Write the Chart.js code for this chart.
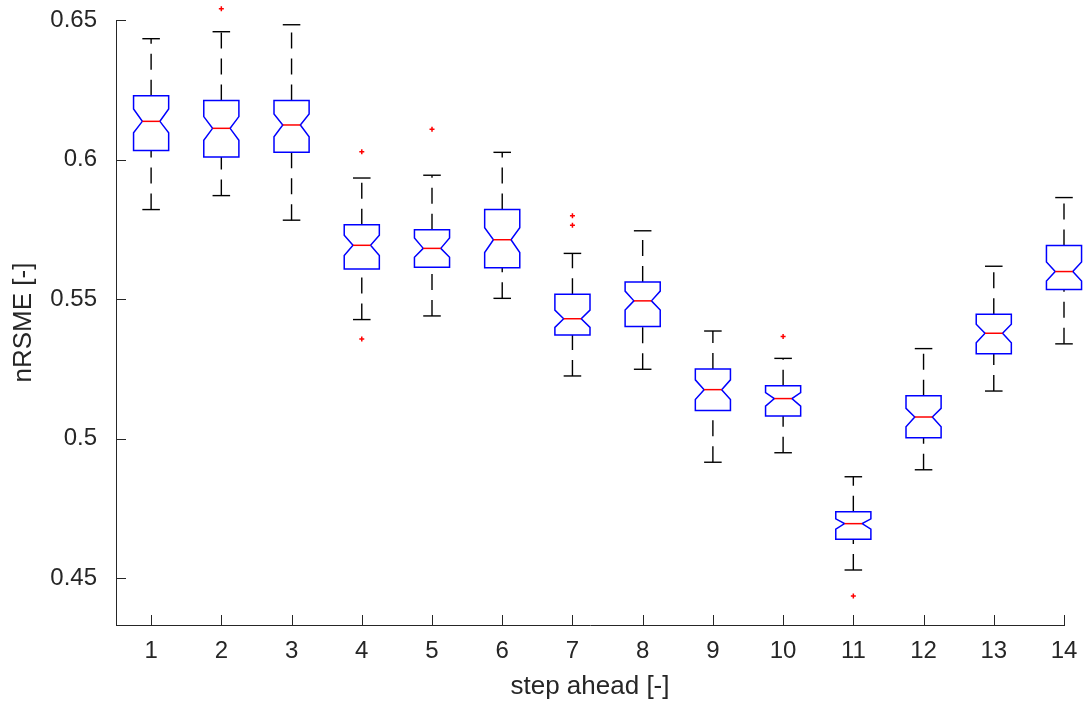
<!DOCTYPE html>
<html>
<head>
<meta charset="utf-8">
<script src="https://cdn.jsdelivr.net/npm/chart.js@4/dist/chart.umd.min.js"></script>
<style>
  html, body { margin: 0; padding: 0; background: #ffffff; }
  #wrap { width: 1083px; height: 704px; }
</style>
</head>
<body>
<div id="wrap"><canvas id="c" width="1083" height="704"></canvas></div>
<script>
// ---- data ----
const steps        = [1, 2, 3, 4, 5, 6, 7, 8, 9, 10, 11, 12, 13, 14];
const upperWhisker = [0.6433, 0.6458, 0.6483, 0.5934, 0.5944, 0.6026, 0.5664, 0.5745, 0.5386, 0.5288, 0.4864, 0.5323, 0.5618, 0.5864];
const q3Values     = [0.6229, 0.6212, 0.6212, 0.5767, 0.5749, 0.5821, 0.5518, 0.5562, 0.5250, 0.5190, 0.4739, 0.5154, 0.5446, 0.5692];
const notchHigh    = [0.6181, 0.6154, 0.6163, 0.5729, 0.5719, 0.5756, 0.5461, 0.5529, 0.5211, 0.5165, 0.4713, 0.5109, 0.5410, 0.5633];
const medians      = [0.6137, 0.6112, 0.6124, 0.5693, 0.5682, 0.5713, 0.5430, 0.5494, 0.5176, 0.5144, 0.4696, 0.5078, 0.5378, 0.5599];
const notchLow     = [0.6096, 0.6069, 0.6082, 0.5656, 0.5650, 0.5667, 0.5399, 0.5461, 0.5141, 0.5117, 0.4676, 0.5043, 0.5344, 0.5565];
const q1Values     = [0.6033, 0.6009, 0.6026, 0.5608, 0.5614, 0.5613, 0.5372, 0.5402, 0.5101, 0.5082, 0.4640, 0.5004, 0.5305, 0.5535];
const lowerWhisker = [0.5821, 0.5871, 0.5783, 0.5427, 0.5440, 0.5503, 0.5225, 0.5249, 0.4916, 0.4950, 0.4530, 0.4889, 0.5171, 0.5340];
const outlierSteps  = [2, 4, 4, 5, 7, 7, 10, 11];
const outlierValues = [0.6540, 0.6028, 0.5357, 0.6109, 0.5799, 0.5765, 0.5366, 0.4437];
const yTicks      = [0.45, 0.5, 0.55, 0.6, 0.65];
const yTickLabels = ['0.45', '0.5', '0.55', '0.6', '0.65'];
const xTickLabels = steps.map(String);

// ---- styling ----
const FONT = "'Liberation Sans', Arial, Helvetica, sans-serif";
const TEXT = '#262626';
const BOX_HALF = 0.25;    // in x units
const CAP_HALF = 0.125;
const NOTCH_HALF = 0.125;

const boxPlugin = {
  id: 'notchedBoxes',
  afterDatasetsDraw(chart) {
    const ctx = chart.ctx;
    const xs = chart.scales.x, ys = chart.scales.y;
    ctx.save();
    steps.forEach((s, i) => {
      const xc = xs.getPixelForValue(s);
      const xl = xs.getPixelForValue(s - BOX_HALF), xr = xs.getPixelForValue(s + BOX_HALF);
      const nl = xs.getPixelForValue(s - NOTCH_HALF), nr = xs.getPixelForValue(s + NOTCH_HALF);
      const cl = xs.getPixelForValue(s - CAP_HALF), cr = xs.getPixelForValue(s + CAP_HALF);
      const yUW = ys.getPixelForValue(upperWhisker[i]);
      const yQ3 = ys.getPixelForValue(q3Values[i]);
      const yNH = ys.getPixelForValue(notchHigh[i]);
      const yM  = ys.getPixelForValue(medians[i]);
      const yNL = ys.getPixelForValue(notchLow[i]);
      const yQ1 = ys.getPixelForValue(q1Values[i]);
      const yLW = ys.getPixelForValue(lowerWhisker[i]);

      // whiskers (dashed)
      ctx.strokeStyle = '#000000';
      ctx.lineWidth = 1.4;
      ctx.setLineDash([16, 10]);
      ctx.beginPath(); ctx.moveTo(xc, yLW); ctx.lineTo(xc, yQ1); ctx.stroke();
      ctx.beginPath(); ctx.moveTo(xc, yQ3); ctx.lineTo(xc, yUW); ctx.stroke();
      ctx.setLineDash([]);
      // caps
      ctx.beginPath(); ctx.moveTo(cl, yUW); ctx.lineTo(cr, yUW); ctx.stroke();
      ctx.beginPath(); ctx.moveTo(cl, yLW); ctx.lineTo(cr, yLW); ctx.stroke();

      // notched box
      ctx.strokeStyle = '#0000ff';
      ctx.lineWidth = 1.5;
      ctx.beginPath();
      ctx.moveTo(xl, yQ1);
      ctx.lineTo(xl, yNL);
      ctx.lineTo(nl, yM);
      ctx.lineTo(xl, yNH);
      ctx.lineTo(xl, yQ3);
      ctx.lineTo(xr, yQ3);
      ctx.lineTo(xr, yNH);
      ctx.lineTo(nr, yM);
      ctx.lineTo(xr, yNL);
      ctx.lineTo(xr, yQ1);
      ctx.closePath();
      ctx.stroke();

      // median
      ctx.strokeStyle = '#ff0000';
      ctx.lineWidth = 1.5;
      ctx.beginPath(); ctx.moveTo(nl, yM); ctx.lineTo(nr, yM); ctx.stroke();
    });

    // outliers: red '+' markers (drawn here so the one above the axis top is not dropped)
    ctx.strokeStyle = '#ff0000';
    ctx.lineWidth = 1.5;
    outlierSteps.forEach((s, i) => {
      const px = xs.getPixelForValue(s);
      const py = ys.getPixelForValue(outlierValues[i]);
      const r = 2.5;
      ctx.beginPath();
      ctx.moveTo(px - r, py); ctx.lineTo(px + r, py);
      ctx.moveTo(px, py - r); ctx.lineTo(px, py + r);
      ctx.stroke();
    });
    ctx.restore();
  },
  afterDraw(chart) {
    // inward tick marks (MATLAB style)
    const ctx = chart.ctx;
    const xs = chart.scales.x, ys = chart.scales.y;
    const a = chart.chartArea;
    ctx.save();
    ctx.strokeStyle = TEXT;
    ctx.lineWidth = 1;
    yTicks.forEach(v => {
      const y = Math.round(ys.getPixelForValue(v)) + 0.5;
      ctx.beginPath(); ctx.moveTo(a.left, y); ctx.lineTo(a.left + 10, y); ctx.stroke();
    });
    steps.forEach(v => {
      const x = Math.round(xs.getPixelForValue(v)) + 0.5;
      ctx.beginPath(); ctx.moveTo(x, a.bottom); ctx.lineTo(x, a.bottom - 10); ctx.stroke();
    });
    ctx.restore();
  }
};

new Chart(document.getElementById('c'), {
  type: 'scatter',
  data: {
    datasets: [{
      label: 'outliers',
      data: outlierSteps.map((s, i) => ({ x: s, y: outlierValues[i] })),
      pointRadius: 0,
      borderColor: '#ff0000',
      backgroundColor: '#ff0000',
      clip: false
    }]
  },
  options: {
    responsive: false,
    animation: false,
    events: [],
    layout: { autoPadding: false, padding: { top: 20, right: 19, left: 0, bottom: 0 } },
    plugins: { legend: { display: false }, tooltip: { enabled: false } },
    scales: {
      x: {
        type: 'linear',
        min: 0.5,
        max: 14,
        afterBuildTicks: (scale) => { scale.ticks = steps.map(v => ({ value: v })); },
        afterFit: (scale) => { scale.height = 79; scale.paddingLeft = 0; scale.paddingRight = 0; },
        grid: { display: false, drawTicks: false },
        border: { display: true, color: TEXT, width: 1 },
        ticks: {
          autoSkip: false,
          maxRotation: 0,
          padding: 12,
          color: TEXT,
          font: { family: FONT, size: 24 },
          callback: (v) => { const i = steps.indexOf(v); return i >= 0 ? xTickLabels[i] : ''; }
        },
        title: {
          display: true,
          text: 'step ahead [-]',
          color: TEXT,
          font: { family: FONT, size: 26 },
          padding: { top: 2, bottom: 2 }
        }
      },
      y: {
        type: 'linear',
        min: 0.4333,
        max: 0.65,
        afterBuildTicks: (scale) => { scale.ticks = yTicks.map(v => ({ value: v })); },
        afterFit: (scale) => { scale.width = 116; scale.paddingTop = 0; scale.paddingBottom = 0; },
        grid: { display: false, drawTicks: false },
        border: { display: true, color: TEXT, width: 1 },
        ticks: {
          autoSkip: false,
          padding: 19,
          color: TEXT,
          font: { family: FONT, size: 24 },
          callback: (v) => { const i = yTicks.indexOf(v); return i >= 0 ? yTickLabels[i] : ''; }
        },
        title: {
          display: true,
          text: 'nRSME [-]',
          color: TEXT,
          font: { family: FONT, size: 26 },
          padding: { top: 8, bottom: 0 }
        }
      }
    }
  },
  plugins: [boxPlugin]
});
</script>
</body>
</html>
